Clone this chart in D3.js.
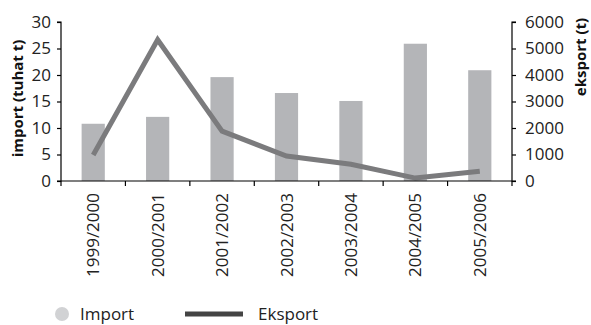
<!DOCTYPE html>
<html><head><meta charset="utf-8">
<script src="https://cdn.jsdelivr.net/npm/d3@7"></script>
<style>
html,body{margin:0;padding:0;background:#fff;}
svg{display:block;font-family:"Open Sans",sans-serif;}
</style></head>
<body><svg id="c" width="591" height="325"></svg>
<script>
const categories = ["1999/2000","2000/2001","2001/2002","2002/2003","2003/2004","2004/2005","2005/2006"];
const importValues = [10.8, 12.1, 19.6, 16.6, 15.1, 25.9, 20.9];
const eksportValues = [980, 5330, 1880, 940, 630, 110, 370];
const leftTicks = [0,5,10,15,20,25,30];
const rightTicks = [0,1000,2000,3000,4000,5000,6000];

const svg = d3.select("#c");
const x0 = 61, x1 = 512, yTop = 22, yBot = 181;
const x = d3.scaleBand().domain(categories).range([x0, x1]).padding(0);
const yL = d3.scaleLinear().domain([0,30]).range([yBot, yTop]);
const yR = d3.scaleLinear().domain([0,6000]).range([yBot, yTop]);
const bw = x.bandwidth();

// bars
svg.append("g").selectAll("rect").data(categories).join("rect")
  .attr("x", d => x(d) + bw*0.32)
  .attr("width", bw*0.36)
  .attr("y", (d,i) => yL(importValues[i]))
  .attr("height", (d,i) => yBot - yL(importValues[i]))
  .attr("fill", "#b4b5b8");

// line
const line = d3.line()
  .x((d,i) => x(categories[i]) + bw/2)
  .y(d => yR(d));
svg.append("path").datum(eksportValues)
  .attr("d", line)
  .attr("fill","none")
  .attr("stroke","#7b7b7d")
  .attr("stroke-width",5)
  .attr("stroke-linejoin","miter");

// left axis
const gL = svg.append("g").attr("transform",`translate(${x0},0)`)
  .call(d3.axisLeft(yL).tickValues(leftTicks).tickSize(4).tickPadding(6));
// right axis
const gR = svg.append("g").attr("transform",`translate(${x1},0)`)
  .call(d3.axisRight(yR).tickValues(rightTicks).tickFormat(d3.format("d")).tickSize(4).tickPadding(9));
[gL,gR].forEach(g=>{
  g.select(".domain").attr("stroke","#000").attr("stroke-width",1.2);
  g.selectAll(".tick line").attr("stroke","#000").attr("stroke-width",1.2);
  g.selectAll("text").attr("font-family","Open Sans").attr("font-size",17).attr("fill","#222");
});
gL.select(".domain").attr("d", `M-4,${yTop}H0V${yBot}H-4`);
gR.select(".domain").attr("d", `M4,${yTop}H0V${yBot}H4`);

// bottom axis
const gB = svg.append("g").attr("transform",`translate(0,${yBot})`)
  .call(d3.axisBottom(x).tickSize(0).tickPadding(0));
gB.select(".domain").attr("stroke","#000").attr("stroke-width",1.2).attr("d",`M${x0},0H${x1}`);
gB.selectAll(".tick text")
  .attr("transform","rotate(-90)")
  .attr("text-anchor","end")
  .attr("dy","0.36em")
  .attr("x",-12)
  .attr("y",0)
  .attr("font-family","Open Sans").attr("font-size",17).attr("fill","#222");
// boundary ticks
const bounds = categories.map(d => x(d)).concat([x1]);
gB.append("g").selectAll("line").data(bounds).join("line")
  .attr("x1", d=>d).attr("x2", d=>d).attr("y1",0).attr("y2",5)
  .attr("stroke","#000").attr("stroke-width",1.2);

// axis titles
svg.append("text")
  .attr("transform",`translate(23,${(yTop+yBot)/2 - 3}) rotate(-90)`)
  .attr("text-anchor","middle")
  .attr("font-family","Open Sans").attr("font-weight","bold").attr("font-size",15).attr("fill","#111")
  .text("import (tuhat t)");
svg.append("text")
  .attr("transform",`translate(586,57) rotate(-90)`)
  .attr("text-anchor","middle")
  .attr("font-family","Open Sans").attr("font-weight","bold").attr("font-size",15).attr("fill","#111")
  .text("eksport (t)");

// legend
const lg = svg.append("g");
lg.append("circle").attr("cx",62).attr("cy",314).attr("r",7).attr("fill","#d1d2d4");
lg.append("text").attr("x",80).attr("y",320).attr("font-family","Open Sans").attr("font-size",17).attr("fill","#222").text("Import");
lg.append("line").attr("x1",185).attr("x2",243).attr("y1",314).attr("y2",314).attr("stroke","#444").attr("stroke-width",5);
lg.append("text").attr("x",258).attr("y",320).attr("font-family","Open Sans").attr("font-size",17).attr("fill","#222").text("Eksport");
</script></body></html>
